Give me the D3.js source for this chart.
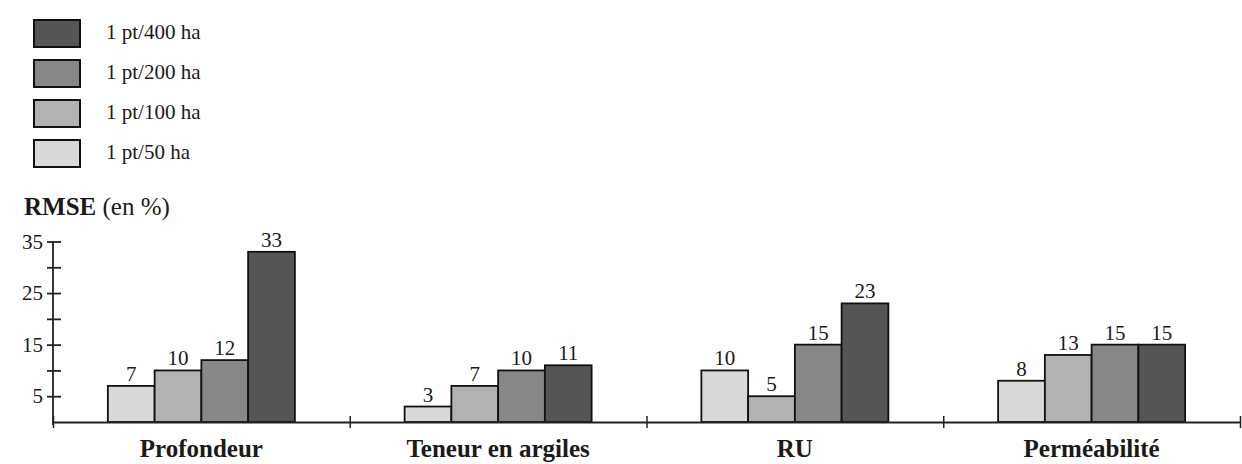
<!DOCTYPE html>
<html>
<head>
<meta charset="utf-8">
<script src="https://cdn.jsdelivr.net/npm/d3@7"></script>
<style>
  body { margin: 0; background: #fff; }
  svg text { font-family: "Liberation Serif", "Times New Roman", serif !important; fill: #1a1a1a; }
</style>
</head>
<body>
<div id="chart"></div>
<script>
// donnees
var categories = ["Profondeur", "Teneur en argiles", "RU", "Perméabilité"];
var series = ["1 pt/50 ha", "1 pt/100 ha", "1 pt/200 ha", "1 pt/400 ha"];
var v50 = [7, 3, 10, 8];
var v100 = [10, 7, 5, 13];
var v200 = [12, 10, 15, 15];
var v400 = [33, 11, 23, 15];
var yTicks = [5, 10, 15, 20, 25, 30, 35];
var yLabels = [5, 15, 25, 35];
var couleurs = ["#d9d9d9", "#b2b2b2", "#878787", "#555555"];

var valeurs = [v50, v100, v200, v400];
var ancho = 1242, alto = 464;
var fuente = "'Liberation Serif', 'Times New Roman', serif";

var svg = d3.select("#chart").append("svg")
  .attr("width", ancho)
  .attr("height", alto)
  .style("font-family", fuente);

// Escalas
var x0 = d3.scaleBand().domain(categories).range([53, 1240]).padding(0);
var anchoGrupo = 187;
var x1 = d3.scaleBand().domain(series).range([0, anchoGrupo]);
var escalaY = d3.scaleLinear().domain([0, 35]).range([422, 241.5]);
var escalaX = d3.scaleLinear().domain([0, categories.length]).range([53, 1240]);
var color = d3.scaleOrdinal().domain(series).range(couleurs);

// datos planos
var data = [];
categories.forEach(function (c, i) {
  series.forEach(function (s, j) {
    data.push({ cat: c, serie: s, valor: valeurs[j][i] });
  });
});

function posX(d) {
  return x0(d.cat) + (x0.bandwidth() - anchoGrupo) / 2 + x1(d.serie);
}

// Leyenda (de arriba abajo: 400, 200, 100, 50)
var leyenda = svg.append("g").attr("class", "leyenda");
var ordenLeyenda = series.slice().reverse();
var items = leyenda.selectAll("g")
  .data(ordenLeyenda)
  .enter().append("g")
  .attr("transform", function (d, i) { return "translate(34," + (20 + i * 40) + ")"; });
items.append("rect")
  .attr("width", 46)
  .attr("height", 27)
  .style("fill", function (d) { return color(d); })
  .style("stroke", "#111")
  .style("stroke-width", 2);
items.append("text")
  .attr("x", 72)
  .attr("y", 19)
  .style("font-family", fuente)
  .style("font-size", "21px")
  .text(function (d) { return d; });

// Titulo eje Y
var titulo = svg.append("text")
  .attr("x", 24)
  .attr("y", 215)
  .style("font-family", fuente)
  .style("font-size", "25px");
titulo.append("tspan").style("font-weight", "bold").text("RMSE");
titulo.append("tspan").text(" (en %)");

// Barras
svg.selectAll(".barras")
  .data(data)
  .enter().append("rect")
  .attr("class", "barras")
  .attr("x", posX)
  .attr("y", function (d) { return escalaY(d.valor); })
  .attr("width", x1.bandwidth())
  .attr("height", function (d) { return escalaY(0) - escalaY(d.valor); })
  .style("fill", function (d) { return color(d.serie); })
  .style("stroke", "#111")
  .style("stroke-width", 1.8);

// Etiquetas de valores
svg.selectAll(".valores")
  .data(data)
  .enter().append("text")
  .attr("class", "valores")
  .attr("x", function (d) { return posX(d) + x1.bandwidth() / 2; })
  .attr("y", function (d) { return escalaY(d.valor) - 5; })
  .attr("text-anchor", "middle")
  .style("font-family", fuente)
  .style("font-size", "21px")
  .text(function (d) { return d.valor; });

// Eje Y
var ejeY = svg.append("g")
  .attr("transform", "translate(53,0)")
  .call(d3.axisLeft(escalaY)
    .tickValues(yTicks)
    .tickSize(6)
    .tickSizeOuter(0)
    .tickPadding(4)
    .tickFormat(function (d) { return yLabels.indexOf(d) >= 0 ? d : ""; }));
ejeY.select(".domain")
  .attr("d", "M0," + (escalaY(0) + 3) + "V" + escalaY(35))
  .style("stroke", "#222").style("stroke-width", 1.8);
ejeY.selectAll(".tick line").attr("x1", 8).attr("x2", -6)
  .style("stroke", "#222").style("stroke-width", 1.8);
ejeY.selectAll(".tick text")
  .style("font-family", fuente)
  .style("font-size", "21px")
  .style("fill", "#1a1a1a");

// Eje X
var ejeX = svg.append("g")
  .attr("transform", "translate(0," + escalaY(0) + ")")
  .call(d3.axisBottom(escalaX)
    .ticks(categories.length)
    .tickSize(6)
    .tickSizeOuter(0)
    .tickFormat(""));
ejeX.select(".domain").style("stroke", "#222").style("stroke-width", 1.8);
ejeX.selectAll(".tick line").attr("y1", -6).attr("y2", 6)
  .style("stroke", "#222").style("stroke-width", 1.5);

// Etiquetas de categorias
svg.selectAll(".categorias")
  .data(categories)
  .enter().append("text")
  .attr("class", "categorias")
  .attr("x", function (d) { return x0(d) + x0.bandwidth() / 2; })
  .attr("y", 457)
  .attr("text-anchor", "middle")
  .style("font-family", fuente)
  .style("font-size", "25px")
  .style("font-weight", "bold")
  .text(function (d) { return d; });
</script>
</body>
</html>
